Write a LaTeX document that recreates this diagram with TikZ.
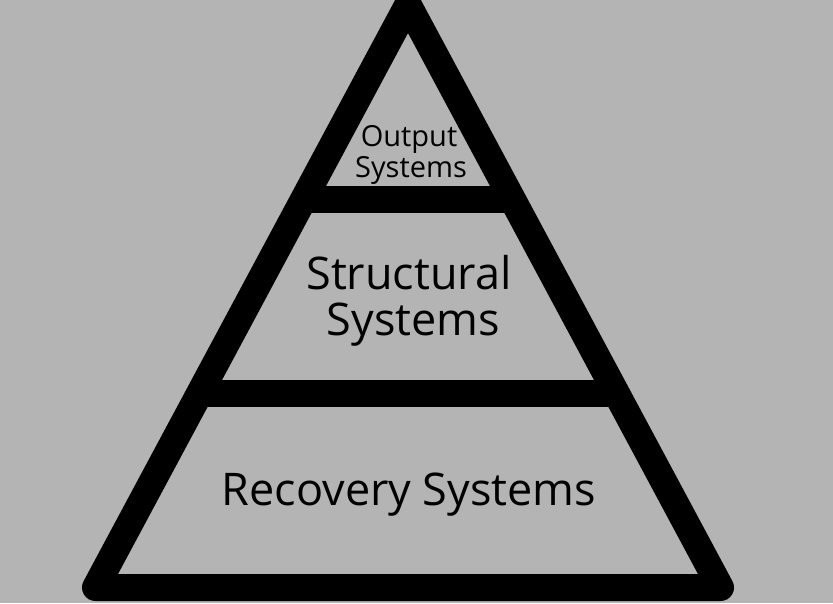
\documentclass[tikz,border=0pt]{standalone}
\usepackage{fontspec}
\setmainfont{Open Sans}
\usetikzlibrary{calc}
\definecolor{bggray}{RGB}{180,180,180}
\tikzset{
	edge/.style = {line width = 27pt, line join = round, color = black},
	label/.style = {align = center, inner sep = 0pt, anchor = base}
}

\begin{document}
\begin{tikzpicture}[x = 1pt, y = -1pt]
	\fill [bggray] (0,0) rectangle (833,603);
	\useasboundingbox (0,0) rectangle (833,603);
	\clip (0,0) rectangle (833,603);
	\coordinate (apex) at (408,4.5);
	\coordinate (bl) at (95.5,587.5);
	\coordinate (br) at (720.5,587.5);
	\draw [edge] (apex) -- (bl) -- (br) -- cycle;
	\foreach \t in {0.3345,0.668}
	\draw [edge] ($(apex)!\t!(bl)$) -- ($(apex)!\t!(br)$);
	\node (out1) [label, font = \fontsize{29}{34}\selectfont] at (409,146) {Output};
	\node (out2) [label, font = \fontsize{29}{34}\selectfont] at (411,177) {Systems};
	\node (str1) [label, font = \fontsize{45}{52}\selectfont] at (409,289) {Structural};
	\node (str2) [label, font = \fontsize{45}{52}\selectfont] at (413.5,335) {Systems};
	\node (rec) [label, font = \fontsize{45}{54}\selectfont] at (409,505) {Recovery Systems};
\end{tikzpicture}
\end{document}
